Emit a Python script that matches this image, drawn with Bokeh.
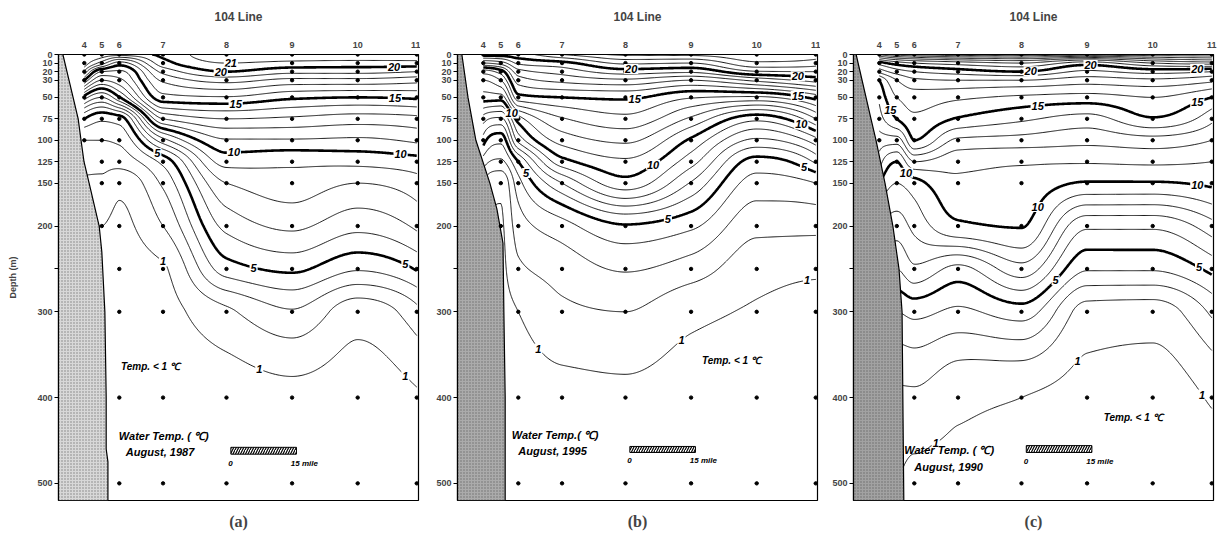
import numpy as np
from bokeh.plotting import figure
from bokeh.layouts import row
from bokeh.models import Range1d, FixedTicker, Title
from bokeh.core.properties import value
from bokeh.embed import file_html
from bokeh.resources import INLINE

FONT = "Liberation Sans"

# ---------------- data ----------------
station_names = ["4", "5", "6", "7", "8", "9", "10", "11"]
station_x = [0.0, 4.0, 8.0, 18.0, 32.5, 47.5, 62.5, 76.0]          # miles from station 4
depths = [0, 10, 20, 30, 50, 75, 100, 125, 150, 200, 250, 300, 400, 500]
depth_ticks = [0, 10, 20, 30, 50, 75, 100, 125, 150, 200, 250, 300, 400, 500]
unlabelled_ticks = [250]

thin_levels = [1, 2, 3, 4, 6, 7, 8, 9, 11, 12, 13, 14, 16, 17, 18, 19, 21, 22, 23, 24, 25, 26]
bold_levels = [5, 10, 15, 20]

# water temperature (deg C), one list per station (4..11), values at `depths`
temp_1987 = [
    [19.8, 19.6, 17.8, 15.0, 9.6, 5.0, 3.0, 2.4, 1.8, 1.0, 0.8, 0.7, 0.6, 0.5],
    [19.7, 17.5, 14.0, 12.0, 8.0, 4.2, 3.0, 2.3, 1.8, 1.0, 0.8, 0.7, 0.6, 0.5],
    [19.6, 15.6, 13.8, 12.7, 9.9, 4.5, 3.2, 2.4, 1.25, 0.8, 0.6, 0.5, 0.4, 0.3],
    [20.2, 19.6, 18.3, 17.2, 15.6, 12.0, 7.6, 4.3, 3.2, 2.0, 0.9, 0.7, 0.5, 0.4],
    [21.9, 21.0, 20.0, 18.4, 15.9, 13.0, 10.9, 9.4, 8.0, 6.3, 4.5, 1.8, 0.6, 0.5],
    [21.9, 20.7, 19.3, 17.7, 15.2, 12.8, 10.9, 9.2, 8.6, 7.2, 5.2, 2.9, 0.75, 0.5],
    [21.9, 20.6, 19.3, 17.7, 15.0, 12.5, 10.8, 9.3, 8.0, 6.3, 4.1, 1.4, 0.6, 0.4],
    [21.9, 20.6, 19.0, 17.4, 15.2, 12.7, 11.2, 9.6, 8.6, 7.2, 5.1, 2.7, 0.9, 0.5],
]
temp_1995 = [
    [20.5, 17.0, 13.5, 12.0, 10.5, 7.5, 5.5, 3.5, 2.0, 1.0, 0.8, 0.7, 0.6, 0.5],
    [20.5, 17.5, 14.5, 13.0, 10.5, 6.8, 4.3, 2.8, 1.2, 0.9, 0.8, 0.7, 0.6, 0.5],
    [20.6, 19.2, 17.6, 16.5, 14.6, 10.5, 8.3, 5.0, 3.6, 2.5, 1.8, 1.0, 0.6, 0.4],
    [22.0, 19.7, 18.4, 17.3, 15.0, 12.9, 11.4, 9.6, 7.0, 3.6, 2.4, 1.8, 0.7, 0.5],
    [23.2, 21.2, 19.5, 17.8, 15.2, 13.7, 12.2, 10.8, 9.6, 4.9, 3.1, 2.0, 0.8, 0.5],
    [23.3, 21.0, 19.2, 17.0, 14.1, 11.8, 9.8, 8.4, 6.9, 4.2, 2.5, 1.25, 0.6, 0.5],
    [23.8, 22.8, 20.9, 18.3, 13.8, 9.3, 6.8, 4.6, 3.6, 2.3, 1.35, 0.9, 0.5, 0.4],
    [23.5, 22.5, 21.0, 19.4, 15.4, 12.0, 8.6, 6.2, 4.0, 2.3, 1.15, 0.7, 0.5, 0.4],
]
temp_1990 = [
    [24.0, 19.5, 17.3, 15.0, 14.2, 13.6, 12.5, 11.5, 10.0, 8.0, 6.0, 4.0, 1.8, 1.0],
    [25.5, 20.5, 18.5, 17.0, 16.0, 15.0, 12.5, 10.0, 9.0, 7.5, 6.0, 4.0, 1.8, 1.0],
    [26.0, 21.0, 19.0, 17.8, 16.5, 15.8, 15.0, 12.0, 9.6, 8.3, 6.8, 4.3, 1.8, 0.8],
    [26.8, 21.5, 19.5, 18.0, 16.2, 14.9, 12.8, 11.3, 10.8, 9.8, 5.7, 3.8, 1.2, 0.8],
    [26.8, 22.0, 20.0, 18.0, 15.8, 14.2, 12.6, 11.1, 10.7, 10.05, 7.6, 4.5, 1.0, 0.6],
    [26.8, 20.5, 18.8, 17.5, 15.6, 13.6, 12.3, 11.1, 9.9, 6.2, 4.1, 1.6, 0.7, 0.5],
    [26.8, 22.0, 19.4, 17.8, 16.0, 14.9, 12.6, 11.2, 9.9, 6.2, 4.1, 1.5, 0.6, 0.5],
    [26.8, 22.5, 19.0, 17.3, 15.0, 13.3, 12.0, 11.0, 10.2, 7.6, 5.3, 3.2, 1.1, 0.6],
]

# deepest observation at each station
bottom_1987 = [100, 200, 500, 500, 500, 500, 500, 500]
bottom_1995 = [100, 200, 500, 500, 500, 500, 500, 500]
bottom_1990 = [100, 200, 500, 500, 500, 500, 500, 500]

# coastal slope (miles, depth m)
coast_x_1987 = [-4.9, -3.5, -1.4, -0.75, -0.07, 1.1, 3.4, 4.0, 4.7, 5.0, 5.0, 5.4, 5.4]
coast_d_1987 = [0, 30, 75, 100, 125, 150, 200, 230, 300, 400, 460, 475, 520]
coast_x_1995 = [-4.9, -3.5, -1.7, 1.5, 3.1, 4.5, 4.7, 5.0, 5.0]
coast_d_1995 = [0, 50, 100, 150, 180, 220, 300, 400, 520]
coast_x_1990 = [-5.3, -1.9, -0.75, 1.3, 3.1, 4.5, 5.2, 5.6]
coast_d_1990 = [0, 75, 100, 150, 200, 250, 300, 520]

# contour labels: text and along-section position (miles)
label_text_1987 = ["21", "20", "20", "15", "15", "10", "10", "5", "5", "5", "1", "1", "1"]
label_x_1987 = [33.5, 31.2, 70.8, 34.6, 71.0, 34.2, 72.3, 16.7, 38.7, 73.4, 18.0, 40.0, 73.4]
label_text_1995 = ["20", "20", "15", "15", "10", "10", "10", "5", "5", "5", "1", "1", "1"]
label_x_1995 = [33.8, 71.9, 34.6, 71.9, 6.5, 38.8, 72.7, 9.8, 42.2, 73.3, 12.6, 45.3, 74.0]
label_text_1990 = ["20", "20", "20", "15", "15", "15", "10", "10", "10", "5", "5", "1", "1", "1"]
label_x_1990 = [48.3, 34.6, 72.7, 36.2, 72.7, 2.5, 6.1, 36.2, 72.7, 40.3, 73.1, 45.3, 73.8, 12.9]

legend_text_1987 = ["Water Temp. ( \u2103)", "August, 1987"]
legend_text_1995 = ["Water Temp.( \u2103)", "August, 1995"]
legend_text_1990 = ["Water Temp. ( \u2103)", "August, 1990"]
legend_x_1987, legend_d_1987 = [7.9, 9.5], [445, 464]
legend_x_1995, legend_d_1995 = [6.5, 8.0], [444, 462]
legend_x_1990, legend_d_1990 = [5.7, 8.0], [461, 481]

cold_text = "Temp.  <  1 \u2103"
cold_pos_1987 = (8.4, 364)
cold_pos_1995 = (50.0, 357)
cold_pos_1990 = (51.3, 423)

scale_len_mile = 15
scale_1987 = (33.5, 458, 466, 477)   # left, top depth, bottom depth, label depth
scale_1995 = (33.5, 457, 464, 473)
scale_1990 = (33.6, 456, 464, 474)

panel_letters = ["(a)", "(b)", "(c)"]
section_title = "104 Line"


# ---------------- helpers ----------------
def _edge_slope(h0, h1, m0, m1):
    d = ((2 * h0 + h1) * m0 - h0 * m1) / (h0 + h1)
    if np.sign(d) != np.sign(m0):
        d = 0.0
    elif np.sign(m0) != np.sign(m1) and abs(d) > abs(3 * m0):
        d = 3 * m0
    return d


def pchip(xk, yk, xq):
    """shape-preserving cubic (gridding for smooth contour drawing)"""
    xk = np.asarray(xk, float)
    yk = np.asarray(yk, float)
    xq = np.asarray(xq, float)
    h = np.diff(xk)
    m = np.diff(yk) / h
    n = len(xk)
    d = np.zeros(n)
    for k in range(1, n - 1):
        if m[k - 1] * m[k] > 0:
            w1 = 2 * h[k] + h[k - 1]
            w2 = h[k] + 2 * h[k - 1]
            d[k] = (w1 + w2) / (w1 / m[k - 1] + w2 / m[k])
    d[0] = _edge_slope(h[0], h[1], m[0], m[1])
    d[-1] = _edge_slope(h[-1], h[-2], m[-1], m[-2])
    i = np.clip(np.searchsorted(xk, xq, side="right") - 1, 0, n - 2)
    t = (xq - xk[i]) / h[i]
    h00 = 2 * t ** 3 - 3 * t ** 2 + 1
    h10 = t ** 3 - 2 * t ** 2 + t
    h01 = -2 * t ** 3 + 3 * t ** 2
    h11 = t ** 3 - t ** 2
    return h00 * yk[i] + h10 * h[i] * d[i] + h01 * yk[i + 1] + h11 * h[i] * d[i + 1]


xf = np.linspace(station_x[0], station_x[-1], 320)
df = np.linspace(depths[0], depths[-1], 501)


def grid_field(temps):
    z = np.array(temps, dtype=float).T            # (depth, station)
    zx = np.array([pchip(station_x, z[r, :], xf) for r in range(z.shape[0])])
    zf = np.array([pchip(depths, zx[:, c], df) for c in range(zx.shape[1])]).T
    return zf                                      # (len(df), len(xf))


def level_depth(zf, xq, level):
    col = np.array([np.interp(xq, xf, zf[r, :]) for r in range(zf.shape[0])])
    s = col - level
    idx = np.where(s[:-1] * s[1:] <= 0)[0]
    if len(idx) == 0:
        return None
    i = idx[0]
    if col[i] == col[i + 1]:
        return float(df[i])
    return float(df[i] + (col[i] - level) / (col[i] - col[i + 1]) * (df[i + 1] - df[i]))


def make_panel(temps, bottoms, coast_x, coast_d, coast_fill, lab_txt, lab_x,
               leg_txt, leg_x, leg_d, cold_pos, scale, letter, width, bl, br, ylabel):
    p = figure(width=width, height=540, x_range=Range1d(-5.9, 76.4), y_range=Range1d(520, 0),
               x_axis_location="above", y_axis_location="left",
               toolbar_location=None, output_backend="svg",
               min_border_left=bl, min_border_right=br, min_border_top=54, min_border_bottom=40)
    p.grid.visible = False
    p.outline_line_color = "black"
    p.outline_line_width = 1.2

    xa = p.xaxis[0]
    xa.ticker = FixedTicker(ticks=station_x)
    xa.major_label_overrides = {x: n for x, n in zip(station_x, station_names)}
    xa.major_tick_line_color = None
    xa.minor_tick_line_color = None
    xa.axis_line_color = None
    xa.major_label_standoff = 1
    xa.major_label_text_font = FONT
    xa.major_label_text_font_style = "bold"
    xa.major_label_text_font_size = "9px"
    xa.axis_label = section_title
    xa.axis_label_text_font = FONT
    xa.axis_label_text_font_style = "bold"
    xa.axis_label_text_font_size = "12px"
    xa.axis_label_standoff = 15

    ya = p.yaxis[0]
    ya.ticker = FixedTicker(ticks=depth_ticks)
    ya.major_label_overrides = {t: "" for t in unlabelled_ticks}
    ya.minor_tick_line_color = None
    ya.major_tick_in = 0
    ya.major_tick_out = 4
    ya.major_tick_line_width = 1.2
    ya.axis_line_width = 1.2
    ya.major_label_standoff = 2
    ya.major_label_text_font = FONT
    ya.major_label_text_font_style = "bold"
    ya.major_label_text_font_size = "9px"
    if ylabel:
        ya.axis_label = "Depth (m)"
        ya.axis_label_text_font = FONT
        ya.axis_label_text_font_style = "bold"
        ya.axis_label_text_font_size = "9px"
        ya.axis_label_standoff = 16

    zf = grid_field(temps)
    lo, hi = zf.min(), zf.max()
    thin = [l for l in thin_levels if lo < l < hi]
    bold = [l for l in bold_levels if lo < l < hi]
    p.contour(xf, df, zf, thin, line_color="black", line_width=0.9)
    p.contour(xf, df, zf, bold, line_color="black", line_width=2.6)

    # coast / slope
    px = [-12.0] + list(coast_x) + [-12.0]
    py = [coast_d[0]] + list(coast_d) + [coast_d[-1]]
    p.patch(px, py, fill_color=coast_fill, line_color="black", line_width=1.2,
            hatch_pattern="dot", hatch_color="#444444", hatch_scale=3, hatch_alpha=0.6)

    # observation points
    ox, oy = [], []
    for sx, b in zip(station_x, bottoms):
        for d in depths:
            if d <= b:
                ox.append(sx)
                oy.append(d)
    p.scatter(ox, oy, size=3.4, marker="circle", color="black")

    # contour labels
    lx, ly, lt = [], [], []
    for t, x in zip(lab_txt, lab_x):
        d = level_depth(zf, x, float(t))
        if d is not None:
            lx.append(x)
            ly.append(d)
            lt.append(t)
    p.text(lx, ly, text=lt, text_font=value(FONT), text_font_style="bold italic",
           text_font_size="11px", text_align="center", text_baseline="middle",
           background_fill_color="white", padding=1)

    # legend texts
    p.text(leg_x, leg_d, text=leg_txt, text_font=value(FONT), text_font_style="bold italic",
           text_font_size="11px", text_align="left", text_baseline="middle")
    p.text([cold_pos[0]], [cold_pos[1]], text=[cold_text], text_font=value(FONT),
           text_font_style="bold italic", text_font_size="10px",
           text_align="left", text_baseline="middle")

    left, top, bot, labd = scale
    p.quad(left=[left], right=[left + scale_len_mile], top=[top], bottom=[bot],
           fill_color="white", line_color="black", line_width=1,
           hatch_pattern="right_diagonal_line", hatch_color="black", hatch_scale=5, hatch_weight=1.2)
    p.text([left - 0.6, left + scale_len_mile - 1.3], [labd, labd], text=["0", "15 mile"],
           text_font=value(FONT), text_font_style="bold italic", text_font_size="8px",
           text_align="left", text_baseline="middle")

    p.add_layout(Title(text=letter, align="center", text_font="Liberation Serif",
                       text_font_style="bold", text_font_size="16px", standoff=20), "below")
    return p


pa = make_panel(temp_1987, bottom_1987, coast_x_1987, coast_d_1987, "#d8d8d8",
                label_text_1987, label_x_1987, legend_text_1987, legend_x_1987, legend_d_1987,
                cold_pos_1987, scale_1987, panel_letters[0], 420, 58, 2, True)
pb = make_panel(temp_1995, bottom_1995, coast_x_1995, coast_d_1995, "#ababab",
                label_text_1995, label_x_1995, legend_text_1995, legend_x_1995, legend_d_1995,
                cold_pos_1995, scale_1995, panel_letters[1], 400, 37, 3, False)
pc = make_panel(temp_1990, bottom_1990, coast_x_1990, coast_d_1990, "#a2a2a2",
                label_text_1990, label_x_1990, legend_text_1990, legend_x_1990, legend_d_1990,
                cold_pos_1990, scale_1990, panel_letters[2], 399, 33, 6, False)

layout = row(pa, pb, pc, spacing=0)
open("out.html", "w").write(file_html(layout, INLINE))
